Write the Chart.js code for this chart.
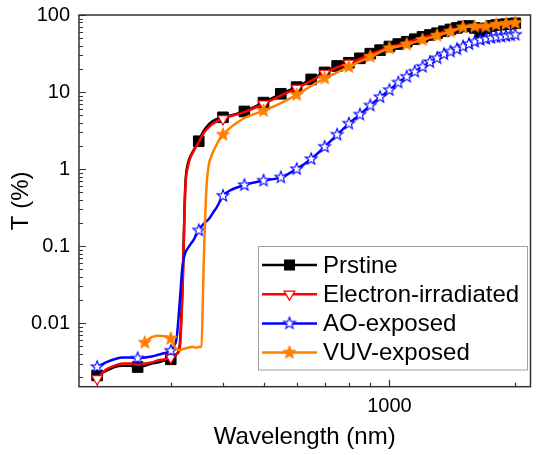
<!DOCTYPE html>
<html><head><meta charset="utf-8">
<script src="https://cdn.jsdelivr.net/npm/chart.js@4.4.1/dist/chart.umd.min.js"></script>
<style>html,body{margin:0;padding:0;background:#fff;}canvas{display:block;}</style>
</head><body>
<canvas id="c" width="539" height="455"></canvas>
<script>
// ---- data ----
const wavelengths = [200,210,220,230,240,250,260,270,280,290,300,
  305,310,315,320,325,330,335,340,345,350,355,360,365,370,375,380,385,390,395,400,
  450,500,550,600,650,700,750,800,850,900,950,1000,1050,1100,1150,1200,1250,1300,1350,1400,1450,1500,1550,1600,1650,1700,1750,1800,1850,1900,1950,2000];

const prstine = [0.0021,0.0024,0.0027,0.0028,0.0028,0.0027,0.0028,0.0030,0.0031,0.0033,0.0034,
  0.0036,0.0040,0.0050,0.03,0.6,1.2,1.5,1.75,2.0,2.3,2.75,3.15,3.5,3.8,4.05,4.25,4.4,4.5,4.6,4.7,
  5.6,7.3,9.5,11.6,14.6,18,21.8,24,27.4,31.5,35,39,42,45,48.5,52,55,58,61.5,65,68,71,72,68,60,67,72,74,75,76,77,78];

const electron = [0.0019,0.0025,0.0028,0.0030,0.0030,0.0029,0.0030,0.0031,0.0033,0.0034,0.0036,
  0.0037,0.0040,0.0046,0.025,0.55,1.1,1.45,1.7,1.95,2.25,2.6,2.95,3.25,3.5,3.75,3.95,4.1,4.25,4.35,4.5,
  5.5,7.0,9.0,11.2,14.0,17.5,21,23.6,27,31,34.5,38,41,44,47.5,51,54,57,60.5,64,67,70,71,69,66,68,71,73,74,75,76,77];

const aoExposed = [0.0027,0.0031,0.0034,0.0036,0.0036,0.0035,0.0036,0.0037,0.0039,0.0041,0.0044,
  0.0050,0.0065,0.018,0.055,0.082,0.095,0.107,0.12,0.14,0.16,0.18,0.195,0.21,0.225,0.25,0.28,0.31,0.35,0.40,0.45,
  0.62,0.71,0.78,1.0,1.35,1.95,2.8,3.9,5.1,6.7,8.6,10.6,13.3,15.8,18.4,21.3,24.5,27.5,31,33.5,36,39,42,45,47.5,49,50.5,51.5,52.5,53.5,54.5,55.5];

const vuvExposed = [null,null,null,null,null,null,0.0056,0.0066,0.0069,0.0068,0.0063,
  0.0052,0.0046,0.0045,0.0046,0.0047,0.0048,0.0049,0.0049,0.0048,0.0049,0.0050,0.07,0.55,1.15,1.45,1.75,2.0,2.3,2.55,2.8,
  4.6,5.7,7.2,9.2,12,15.1,18,21.3,25,28.8,33,37,39,41.5,44.5,47.5,50.5,54,57.5,61,65,69,70.5,71,70,71,73,75,76,77,78,79];

const seriesNames = ['Prstine','Electron-irradiated','AO-exposed','VUV-exposed'];
const yTickValues = [0.01,0.1,1,10,100];
const yTickLabels = ['0.01','0.1','1','10','100'];
const xTickValues = [1000];
const xTickLabels = ['1000'];
const xMinorTicks = [200,300,400,500,600,700,800,900,2000];

// ---- styling ----
const FONT = "'Liberation Sans', Arial, sans-serif";
const BLACK = '#000000', RED = '#ff0000', BLUE = '#0000ff', ORANGE = '#ff8000';

function starCanvas(size, R, r, fill, stroke, lw) {
  const c = document.createElement('canvas'); c.width = c.height = size;
  const g = c.getContext('2d'); const cx = size / 2, cy = size / 2;
  g.beginPath();
  for (let i = 0; i < 10; i++) {
    const a = -Math.PI / 2 + i * Math.PI / 5; const rr = i % 2 ? r : R;
    g.lineTo(cx + rr * Math.cos(a), cy + rr * Math.sin(a));
  }
  g.closePath(); g.fillStyle = fill; g.fill();
  g.lineWidth = lw; g.strokeStyle = stroke; g.lineJoin = 'miter'; g.stroke();
  return c;
}
const blueStar = starCanvas(16, 6.2, 2.6, '#ffffff', BLUE, 1.1);
const orangeStar = starCanvas(16, 6.8, 2.9, ORANGE, ORANGE, 1);

function pts(vals) { return wavelengths.map((w, i) => ({x: w, y: vals[i]})); }
const every50 = i => wavelengths[i] % 50 === 0;
const redMark = i => wavelengths[i] % 100 === 0 && wavelengths[i] <= 800;
const orangeMark = i => wavelengths[i] % 100 === 0 || wavelengths[i] === 260;

function noPad(s) { s.paddingTop = 0; s.paddingBottom = 0; s.paddingLeft = 0; s.paddingRight = 0; }

const framePlugin = {
  id: 'frame',
  beforeDatasetsDraw(chart) {
    const {ctx, chartArea: a, scales: {x, y}} = chart;
    ctx.save();
    ctx.strokeStyle = '#333'; ctx.lineWidth = 1.5;
    ctx.strokeRect(a.left, a.top, a.right - a.left, a.bottom - a.top);
    ctx.lineWidth = 1.2;
    ctx.beginPath();
    for (let e = -3; e <= 2; e++) {
      for (let m = 1; m <= 9; m++) {
        const v = m * Math.pow(10, e);
        if (v < y.min || v > y.max) continue;
        const py = Math.round(y.getPixelForValue(v)) + 0.5;
        const len = m === 1 ? 7 : 4;
        ctx.moveTo(a.left, py); ctx.lineTo(a.left + len, py);
      }
    }
    xMinorTicks.forEach(v => {
      const px = Math.round(x.getPixelForValue(v)) + 0.5;
      ctx.moveTo(px, a.bottom); ctx.lineTo(px, a.bottom - 4);
    });
    xTickValues.forEach(v => {
      const px = Math.round(x.getPixelForValue(v)) + 0.5;
      ctx.moveTo(px, a.bottom); ctx.lineTo(px, a.bottom - 7);
    });
    ctx.stroke();
    ctx.restore();
  }
};

function drawLegendMarker(ctx, i, cx, cy) {
  ctx.save();
  if (i === 0) {
    ctx.fillStyle = BLACK; ctx.fillRect(cx - 5.5, cy - 5.5, 11, 11);
  } else if (i === 1) {
    const r = 6.2;
    ctx.beginPath();
    ctx.moveTo(cx, cy + r);
    ctx.lineTo(cx - r * Math.sin(Math.PI / 3), cy - r / 2);
    ctx.lineTo(cx + r * Math.sin(Math.PI / 3), cy - r / 2);
    ctx.closePath();
    ctx.fillStyle = '#fff'; ctx.fill(); ctx.strokeStyle = RED; ctx.lineWidth = 1.2; ctx.stroke();
  } else {
    const img = i === 2 ? blueStar : orangeStar;
    ctx.drawImage(img, cx - img.width / 2, cy - img.height / 2);
  }
  ctx.restore();
}

const legendPlugin = {
  id: 'boxLegend',
  afterDatasetsDraw(chart) {
    const {ctx} = chart;
    const x0 = 258.5, y0 = 246.5, w = 269, h = 123.5;
    ctx.save();
    ctx.fillStyle = '#fff'; ctx.fillRect(x0, y0, w, h);
    ctx.strokeStyle = '#a0a0a0'; ctx.lineWidth = 1; ctx.strokeRect(x0, y0, w, h);
    chart.data.datasets.forEach((ds, i) => {
      const cy = 265 + i * 29.2;
      ctx.beginPath(); ctx.moveTo(262, cy); ctx.lineTo(317, cy);
      ctx.strokeStyle = ds.borderColor; ctx.lineWidth = 2.5; ctx.stroke();
      drawLegendMarker(ctx, i, 289.5, cy);
      ctx.fillStyle = '#000'; ctx.font = '24px ' + FONT; ctx.textBaseline = 'middle'; ctx.textAlign = 'left';
      ctx.fillText(ds.label, 323, cy + 1);
    });
    ctx.restore();
  }
};

new Chart(document.getElementById('c').getContext('2d'), {
  type: 'line',
  data: {
    datasets: [
      {label: seriesNames[0], data: pts(prstine), borderColor: BLACK, backgroundColor: BLACK, borderWidth: 2.5,
       pointStyle: 'rect', pointRadius: c => every50(c.dataIndex) ? 7.5 : 0, pointBackgroundColor: BLACK, pointBorderColor: BLACK, pointBorderWidth: 1, order: 3},
      {label: seriesNames[1], data: pts(electron), borderColor: RED, backgroundColor: RED, borderWidth: 2.5,
       pointStyle: 'triangle', pointRotation: 180, pointRadius: c => redMark(c.dataIndex) ? 6.2 : 0, pointBackgroundColor: '#ffffff', pointBorderColor: RED, pointBorderWidth: 1.2, order: 2},
      {label: seriesNames[2], data: pts(aoExposed), borderColor: BLUE, backgroundColor: BLUE, borderWidth: 2.5,
       pointStyle: blueStar, pointRadius: c => every50(c.dataIndex) ? 6 : 0, order: 1},
      {label: seriesNames[3], data: pts(vuvExposed), borderColor: ORANGE, backgroundColor: ORANGE, borderWidth: 2.5,
       pointStyle: orangeStar, pointRadius: c => orangeMark(c.dataIndex) ? 6 : 0, order: 0}
    ]
  },
  options: {
    responsive: false, animation: false, events: [],
    layout: {padding: {top: 15, right: 1, left: 0, bottom: 0}},
    plugins: {legend: {display: false}, tooltip: {enabled: false}},
    elements: {line: {cubicInterpolationMode: 'monotone'}},
    datasets: {line: {clip: false}},
    scales: {
      x: {
        type: 'logarithmic', min: 181, max: 2175,
        grid: {display: false, drawTicks: false}, border: {display: false},
        afterFit: s => { s.height = 68.3; noPad(s); },
        afterBuildTicks: s => { s.ticks = xTickValues.map(v => ({value: v})); },
        ticks: {autoSkip: false, maxRotation: 0, padding: 8, color: '#000', font: {size: 20, family: FONT},
          callback: v => { const i = xTickValues.indexOf(v); return i >= 0 ? xTickLabels[i] : ''; }},
        title: {display: true, text: 'Wavelength (nm)', color: '#000', font: {size: 24, family: FONT}, padding: {top: 0, bottom: 3}}
      },
      y: {
        type: 'logarithmic', min: 0.0015, max: 100,
        grid: {display: false, drawTicks: false}, border: {display: false},
        afterFit: s => { s.width = 79; noPad(s); },
        afterBuildTicks: s => { s.ticks = yTickValues.map(v => ({value: v})); },
        ticks: {autoSkip: false, padding: 9, color: '#000', font: {size: 20, family: FONT},
          callback: v => { const i = yTickValues.indexOf(v); return i >= 0 ? yTickLabels[i] : ''; }},
        title: {display: true, text: 'T (%)', color: '#000', font: {size: 24, family: FONT}, padding: {top: 7, bottom: 0}}
      }
    }
  },
  plugins: [framePlugin, legendPlugin]
});
</script>
</body></html>
